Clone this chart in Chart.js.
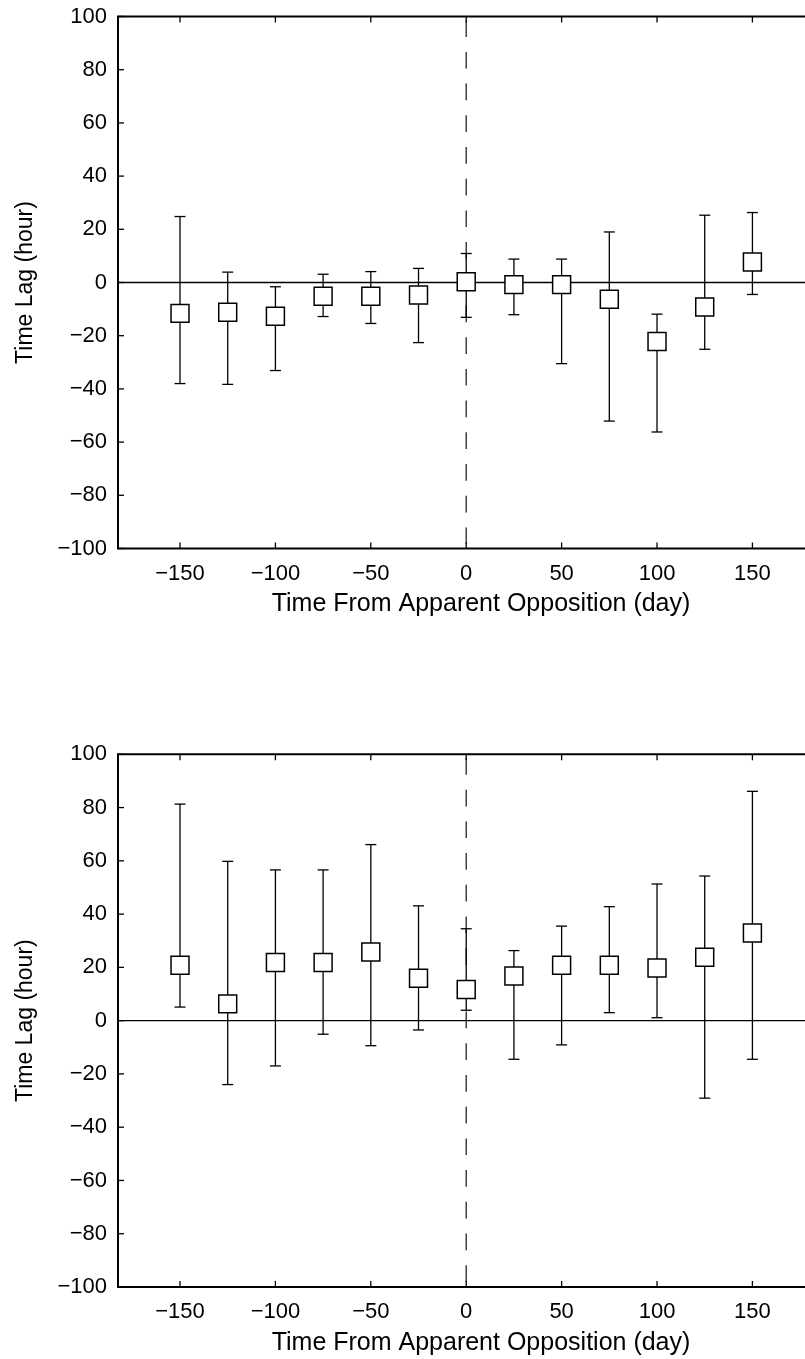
<!DOCTYPE html>
<html>
<head>
<meta charset="utf-8">
<script src="https://cdn.jsdelivr.net/npm/chart.js@4.4.1/dist/chart.umd.min.js"></script>
<style>
  body { margin: 0; background: #fff; overflow: hidden; }
  canvas { display: block; }
</style>
</head>
<body>
<!-- the original figure is cropped on the right, so the axes run past the page edge -->
<canvas id="topChart" width="844" height="680"></canvas>
<canvas id="bottomChart" width="844" height="679"></canvas>
<script>
// days from apparent opposition (x positions of the points)
const days = [-150, -125, -100, -75, -50, -25, 0, 25, 50, 75, 100, 125, 150];

// upper panel: time lag (hour) with error bar ends
const lagTop = [-11.6, -11.2, -12.7, -5.2, -5.2, -4.7, 0.3, -0.8, -0.8, -6.3, -22.2, -9.2, 7.7];
const lagTopHigh = [24.8, 3.9, -1.6, 3.1, 4.1, 5.3, 10.9, 8.8, 8.8, 19.0, -11.9, 25.3, 26.3];
const lagTopLow = [-38.0, -38.3, -33.1, -12.8, -15.4, -22.6, -13.1, -12.1, -30.5, -52.1, -56.2, -25.1, -4.5];

// lower panel
const lagBottom = [20.8, 6.3, 21.8, 21.8, 25.8, 15.9, 11.7, 16.8, 20.8, 20.8, 19.8, 23.8, 32.9];
const lagBottomHigh = [81.3, 59.8, 56.6, 56.6, 66.1, 43.1, 34.5, 26.3, 35.5, 42.8, 51.3, 54.3, 86.1];
const lagBottomLow = [5.1, -24.0, -17.0, -5.1, -9.4, -3.5, 3.9, -14.5, -9.1, 3.0, 1.1, -29.1, -14.5];

const xTicks = [-150, -100, -50, 0, 50, 100, 150];
const yTicks = [-100, -80, -60, -40, -20, 0, 20, 40, 60, 80, 100];

const FONT = '"Liberation Sans", Arial, Helvetica, sans-serif';

function line(ctx, x1, y1, x2, y2) {
  ctx.beginPath();
  ctx.moveTo(x1, y1);
  ctx.lineTo(x2, y2);
  ctx.stroke();
}

// zero line, dashed opposition line and error bars, under the squares
const errorBars = {
  id: 'errorBars',
  beforeDatasetsDraw(chart) {
    const { ctx, chartArea: a, scales: { x, y } } = chart;
    const ds = chart.data.datasets[0];
    ctx.save();
    ctx.strokeStyle = '#000';
    ctx.lineWidth = 1.3;
    const y0 = y.getPixelForValue(0);
    line(ctx, a.left, y0, a.right, y0);

    const x0 = x.getPixelForValue(0);
    ctx.strokeStyle = '#222';
    ctx.setLineDash([16.7, 15]);
    ctx.lineDashOffset = 28;
    line(ctx, x0, a.top, x0, a.bottom);
    ctx.setLineDash([]);

    ctx.strokeStyle = '#000';
    ctx.lineWidth = 1.3;
    ds.data.forEach((p, i) => {
      const px = x.getPixelForValue(p.x);
      const hi = y.getPixelForValue(ds.errHigh[i]);
      const lo = y.getPixelForValue(ds.errLow[i]);
      line(ctx, px, hi, px, lo);
      line(ctx, px - 5.5, hi, px + 5.5, hi);
      line(ctx, px - 5.5, lo, px + 5.5, lo);
    });
    ctx.restore();
  },
  // box frame with inward ticks, MATLAB style
  afterDraw(chart) {
    const { ctx, chartArea: a, scales: { x, y } } = chart;
    ctx.save();
    ctx.strokeStyle = '#000';
    ctx.lineWidth = 1.3;
    xTicks.forEach(v => {
      const px = x.getPixelForValue(v);
      line(ctx, px, a.bottom, px, a.bottom - 6);
      line(ctx, px, a.top, px, a.top + 6);
    });
    yTicks.forEach(v => {
      const py = y.getPixelForValue(v);
      line(ctx, a.left, py, a.left + 6, py);
    });
    ctx.lineWidth = 2;
    ctx.beginPath();
    ctx.moveTo(a.right, a.top);
    ctx.lineTo(a.left, a.top);
    ctx.lineTo(a.left, a.bottom);
    ctx.lineTo(a.right, a.bottom);
    ctx.stroke();
    ctx.restore();
  }
};

function makeChart(canvasId, lag, low, high, padTop, padBottom) {
  return new Chart(document.getElementById(canvasId), {
    type: 'scatter',
    data: {
      datasets: [{
        data: days.map((d, i) => ({ x: d, y: lag[i] })),
        errLow: low,
        errHigh: high,
        pointStyle: 'rect',
        pointRadius: 12.7,
        pointHoverRadius: 12.7,
        backgroundColor: '#fff',
        borderColor: '#000',
        borderWidth: 1.5,
        showLine: false
      }]
    },
    options: {
      responsive: false,
      animation: false,
      layout: {
        autoPadding: false,
        padding: { top: padTop, bottom: padBottom, left: 0, right: 0 }
      },
      plugins: { legend: { display: false }, tooltip: { enabled: false } },
      scales: {
        x: {
          type: 'linear',
          min: -182.5,
          max: 198,
          afterBuildTicks: s => { s.ticks = xTicks.map(v => ({ value: v })); },
          afterFit: s => {
            s.height = 72;
            s.paddingLeft = 0;
            s.paddingRight = 0;
          },
          grid: { display: false, drawTicks: false },
          border: { display: false },
          ticks: {
            padding: 12,
            color: '#000',
            font: { family: FONT, size: 22 },
            callback: v => String(v).replace('-', '\u2212')
          },
          title: {
            display: true,
            text: 'Time From Apparent Opposition (day)',
            color: '#000',
            font: { family: FONT, size: 25 },
            padding: { top: 0, bottom: 1 }
          }
        },
        y: {
          min: -100,
          max: 100,
          afterBuildTicks: s => { s.ticks = yTicks.map(v => ({ value: v })); },
          afterFit: s => {
            s.width = 118;
            s.paddingTop = 0;
            s.paddingBottom = 0;
          },
          grid: { display: false, drawTicks: false },
          border: { display: false },
          ticks: {
            padding: 11,
            color: '#000',
            font: { family: FONT, size: 22 },
            callback: v => String(v).replace('-', '\u2212')
          },
          title: {
            display: true,
            text: 'Time Lag (hour)',
            color: '#000',
            font: { family: FONT, size: 23 },
            padding: { top: 12, bottom: 0 }
          }
        }
      }
    },
    plugins: [errorBars]
  });
}

makeChart('topChart', lagTop, lagTopLow, lagTopHigh, 16.5, 59.5);
makeChart('bottomChart', lagBottom, lagBottomLow, lagBottomHigh, 74.3, 0);
</script>
</body>
</html>
